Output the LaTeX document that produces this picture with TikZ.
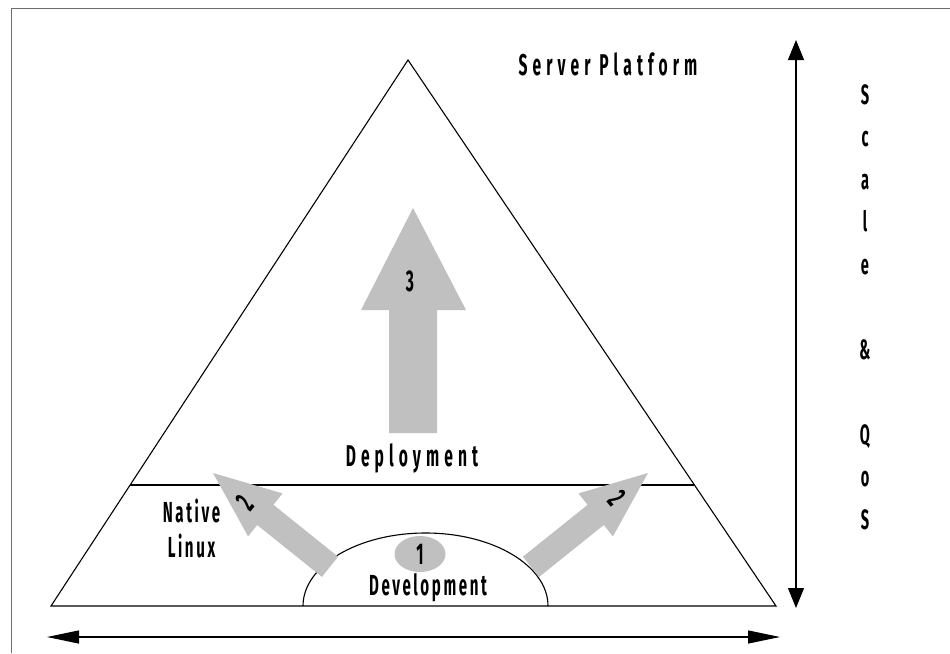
\documentclass[tikz,border=0pt]{standalone}
\usepackage{fontspec}
\newfontfamily\widefont[FakeStretch=0.52,LetterSpace=17]{Fira Sans}
\newfontfamily\tightfont[FakeStretch=0.52,LetterSpace=9]{Fira Sans}
\usetikzlibrary{arrows.meta,calc,shapes.geometric}
\definecolor{arrowgray}{RGB}{192,192,192}
\definecolor{framegray}{RGB}{110,110,110}

\begin{document}
\begin{tikzpicture}[
        x=1pt, y=1pt,
        line width=1.1pt,
        font=\widefont\bfseries\fontsize{30}{34}\selectfont
    ]
    \tikzset{
        blockarrow/.style = {fill=arrowgray, draw=none},
        scalearrow/.style = {{Triangle[length=20pt,width=16pt]}-{Triangle[length=20pt,width=16pt]}},
        widtharrow/.style = {{Triangle[length=32pt,width=13pt]}-{Triangle[length=32pt,width=13pt]}},
        lbl/.style = {inner sep=0pt, anchor=base},
        tight/.style = {font=\tightfont\bfseries\fontsize{29}{35}\selectfont},
    }
    \useasboundingbox (0,0) rectangle (950,-653);
    \draw[framegray, line width=1.6pt] (11.5,-653) |- (950,-8.5);

    % pyramid
    \coordinate (apex) at (408,-60);
    \coordinate (bl) at (51,-606);
    \coordinate (br) at (776,-606);
    \draw (bl) -- (apex) -- (br) -- cycle;
    \draw ($(bl)!0.2216!(apex)$) -- ($(br)!0.2216!(apex)$);
    \draw (303,-606) arc[start angle=180, end angle=0, x radius=122.5, y radius=73];

    % block arrows
    \fill[blockarrow] (413,-208) -- (466,-310) -- (437,-310) -- (437,-433)
        -- (389,-433) -- (389,-310) -- (361,-310) -- cycle;
    \fill[blockarrow] (213,-473) -- (282.5,-493.4) -- (273.4,-504.8) -- (338.1,-556.7)
        -- (321.9,-576.9) -- (257.2,-525.0) -- (248.1,-536.4) -- cycle;
    \fill[blockarrow] (648,-473) -- (578.5,-493.4) -- (587.6,-504.8) -- (522.9,-556.7)
        -- (539.1,-576.9) -- (603.8,-525.0) -- (612.9,-536.4) -- cycle;
    \node[ellipse, fill=arrowgray, minimum width=51, minimum height=36, inner sep=0pt] (one) at (420,-554) {1};

    % labels
    \node[lbl] (server) at (608,-75) {Server Platform};
    \node[lbl] (three) at (410,-291) {3};
    \node[lbl] (deploy) at (412,-466) {Deployment};
    \node[lbl, tight] (devel) at (428,-595) {Development};
    \node[align=center, inner sep=0pt, tight] (native) at (191.5,-528) {Native\\Linux};
    \node[rotate=51, inner sep=0pt] (twoL) at (245,-503) {2};
    \node[rotate=-51, inner sep=0pt] (twoR) at (617,-498) {2};
    \node[align=center, inner sep=0pt, font=\widefont\bfseries\fontsize{28}{42.5}\selectfont] (scale) at (865,-307)
        {S\\c\\a\\l\\e\\[42.5pt]\&\\[42.5pt]Q\\o\\S};

    % axes
    \coordinate (scaletop) at (796,-40);
    \coordinate (scalebot) at (796,-608);
    \draw[scalearrow] (scalebot) -- (scaletop);
    \coordinate (widthl) at (47,-637);
    \coordinate (widthr) at (780,-637);
    \draw[widtharrow] (widthl) -- (widthr);
\end{tikzpicture}
\end{document}
